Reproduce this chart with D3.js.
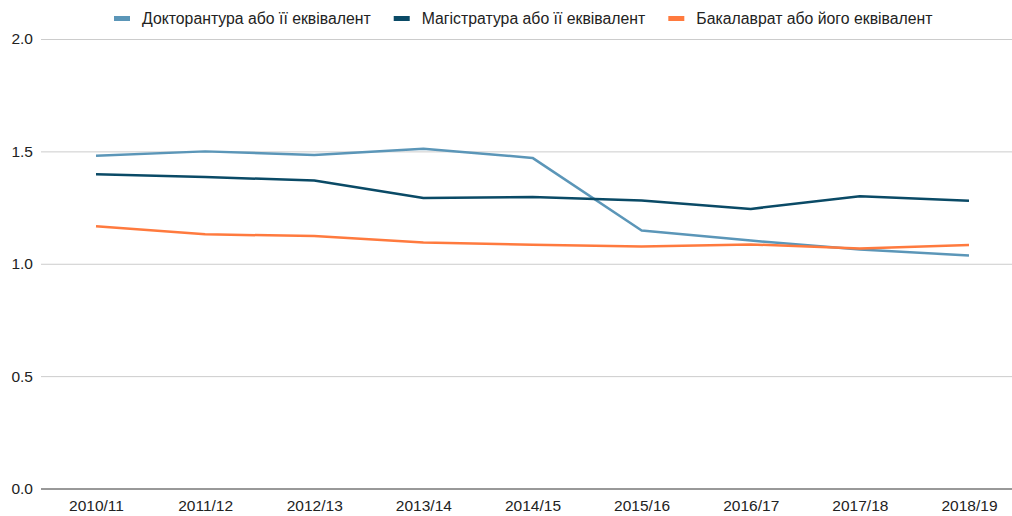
<!DOCTYPE html>
<html>
<head>
<meta charset="utf-8">
<script src="https://cdn.jsdelivr.net/npm/d3@7"></script>
<style>
  body { margin: 0; background: #fff; }
  svg { display: block; font-family: "Liberation Sans", Arial, sans-serif; }
</style>
</head>
<body>
<svg id="chart" width="1012" height="516"></svg>
<script>
const years = ["2010/11", "2011/12", "2012/13", "2013/14", "2014/15", "2015/16", "2016/17", "2017/18", "2018/19"];
const doctorate = [1.481, 1.500, 1.484, 1.512, 1.471, 1.148, 1.103, 1.063, 1.037];
const masters = [1.398, 1.386, 1.370, 1.293, 1.297, 1.281, 1.244, 1.300, 1.280];
const bachelors = [1.167, 1.131, 1.123, 1.095, 1.084, 1.077, 1.086, 1.068, 1.083];
const yTicks = [0, 0.5, 1.0, 1.5, 2.0];

const series = [
    { name: "Докторантура або її еквівалент", values: doctorate, color: "#5b96b8" },
    { name: "Магістратура або її еквівалент", values: masters, color: "#0a4a66" },
    { name: "Бакалаврат або його еквівалент", values: bachelors, color: "#ff7a3e" },
];

const svg = d3.select("#chart");
const plotLeft = 41, plotRight = 1012, plotTop = 39, plotBottom = 488.5;

const x = d3.scalePoint().domain(years).range([96, 969]);
const y = d3.scaleLinear().domain([0, 2]).range([plotBottom, plotTop]);

// сітка
const yAxis = svg.append("g")
    .attr("transform", `translate(${plotLeft},0)`)
    .call(d3.axisLeft(y).tickValues(yTicks).tickFormat(d3.format(".1f")).tickSize(-(plotRight - plotLeft)).tickPadding(8));
yAxis.select(".domain").remove();
yAxis.selectAll(".tick line").attr("stroke", d => d === 0 ? "#333" : "#ccc").attr("stroke-width", 1);
yAxis.selectAll(".tick text").attr("fill", "#222").style("font-size", "15.5px");

const xAxis = svg.append("g")
    .attr("transform", `translate(0,${plotBottom})`)
    .call(d3.axisBottom(x).tickSize(0).tickPadding(11));
xAxis.select(".domain").remove();
xAxis.selectAll(".tick text").attr("fill", "#222").style("font-size", "15.5px");

// лінії
const line = d3.line().x((d, i) => x(years[i])).y(d => y(d));
series.forEach(s => {
    svg.append("path")
        .datum(s.values)
        .attr("fill", "none")
        .attr("stroke", s.color)
        .attr("stroke-width", 2.5)
        .attr("stroke-linejoin", "round")
        .attr("d", line);
});

// легенда
const legend = svg.append("g");
let lx = 114;
series.forEach(s => {
    legend.append("rect")
        .attr("x", lx).attr("y", 16)
        .attr("width", 16).attr("height", 5)
        .attr("fill", s.color);
    const t = legend.append("text")
        .attr("x", lx + 28).attr("y", 24)
        .attr("fill", "#222")
        .style("font-size", "15.8px")
        .text(s.name);
    lx += 28 + t.node().getComputedTextLength() + 23;
});
</script>
</body>
</html>
